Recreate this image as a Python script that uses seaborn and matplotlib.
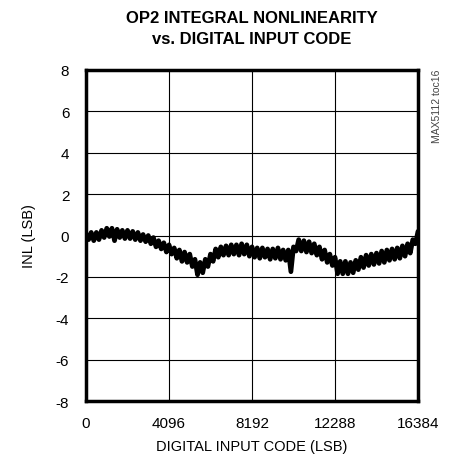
import numpy as np
import pandas as pd
import matplotlib
matplotlib.use("Agg")
import matplotlib.pyplot as plt
import seaborn as sns

codes_step = 128
inl = [0.1, -0.2, 0.15, -0.25, 0.15, -0.2, 0.25, -0.1, 0.35, -0.05,
       0.35, -0.25, 0.3, -0.1, 0.25, -0.15, 0.25, -0.15, 0.2, -0.2,
       0.15, -0.25, 0.05, -0.3, 0.0, -0.4, -0.1, -0.55, -0.25, -0.65,
       -0.35, -0.8, -0.45, -0.9, -0.6, -1.1, -0.7, -1.25, -0.8, -1.3,
       -0.9, -1.5, -1.15, -1.9, -1.3, -1.8, -1.15, -1.5, -0.9, -1.25,
       -0.65, -1.05, -0.55, -0.95, -0.5, -0.95, -0.45, -0.9, -0.45, -0.95,
       -0.4, -0.9, -0.45, -1.0, -0.55, -1.05, -0.6, -1.1, -0.6, -1.05,
       -0.65, -1.15, -0.65, -1.1, -0.6, -1.15, -0.7, -1.2, -0.7, -1.75,
       -0.55, -0.75, -0.2, -0.75, -0.25, -0.8, -0.3, -0.85, -0.4, -0.95,
       -0.55, -1.15, -0.7, -1.3, -0.9, -1.45, -1.05, -1.85, -1.25, -1.85,
       -1.25, -1.85, -1.3, -1.8, -1.2, -1.65, -1.05, -1.55, -0.95, -1.45,
       -0.9, -1.4, -0.85, -1.35, -0.75, -1.3, -0.7, -1.2, -0.65, -1.15,
       -0.6, -1.1, -0.5, -1.0, -0.4, -0.85, -0.2, -0.4, 0.2]
codes = [codes_step * i for i in range(len(inl))]
xticks = [0, 4096, 8192, 12288, 16384]
yticks = [-8, -6, -4, -2, 0, 2, 4, 6, 8]

df = pd.DataFrame({"code": codes, "inl": inl})

sns.set_theme(style="white")
plt.rcParams['font.family'] = ['Liberation Sans', 'DejaVu Sans']
plt.rcParams['text.color'] = 'black'
plt.rcParams['axes.labelcolor'] = 'black'

fig = plt.figure(figsize=(4.51, 4.64), dpi=100)
ax = fig.add_axes([86/451, 1-402/464, (418-86)/451, (402-71)/464])
sns.lineplot(data=df, x="code", y="inl", ax=ax, color="black", linewidth=3.4)

ax.set_xlim(0, 16384)
ax.set_ylim(-8, 8)
ax.set_xticks(xticks)
ax.set_yticks(yticks)
ax.set_xticklabels([str(t) for t in xticks])
ax.set_yticklabels([str(t) for t in yticks])
ax.grid(True, color="black", linewidth=0.8)
for s in ax.spines.values():
    s.set_linewidth(2.5)
    s.set_color("black")
ax.tick_params(axis="x", length=0, labelsize=11, colors="black", pad=11)
ax.tick_params(axis="y", length=0, labelsize=11, colors="black", pad=12)
ax.set_xlabel("DIGITAL INPUT CODE (LSB)", fontsize=10.5, labelpad=6)
ax.set_ylabel("INL (LSB)", fontsize=10.5, labelpad=14)

fig.text(252/451, 1-29/464, "OP2 INTEGRAL NONLINEARITY\nvs. DIGITAL INPUT CODE",
         ha="center", va="center", fontsize=12, fontweight="bold", linespacing=1.55)
fig.text(437/451, 1-70/464, "MAX5112 toc16", rotation=90, ha="center", va="top",
         fontsize=7.5, color="#444444")

fig.savefig("out.png", dpi=100)
